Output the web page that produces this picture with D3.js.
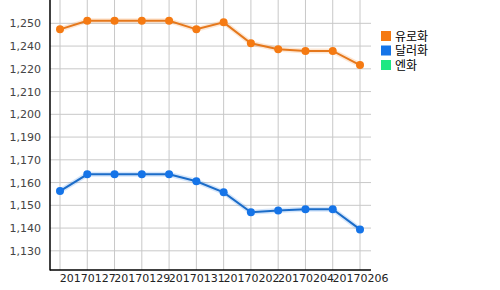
<!DOCTYPE html>
<html>
<head>
<meta charset="utf-8">
<script src="https://cdn.jsdelivr.net/npm/d3@7"></script>
<style>
  body { margin: 0; background: #fff; }
  svg { display: block; }
</style>
</head>
<body>
<svg id="chart" width="500" height="290"></svg>
<script>
// dates on the x axis
var dates = ['20170126', '20170127', '20170128', '20170129', '20170130', '20170131',
             '20170201', '20170202', '20170203', '20170204', '20170205', '20170206'];

// exchange rates (KRW)
var euroValues = [1244.1, 1248.7, 1248.7, 1248.7, 1248.7, 1244.1,
                  1247.8, 1236.7, 1233.5, 1232.6, 1232.6, 1225.1];
var dollarValues = [1158.1, 1167.0, 1167.0, 1167.0, 1167.0, 1163.3,
                    1157.4, 1146.8, 1147.8, 1148.4, 1148.4, 1137.7];
var yenValues = []; // off the visible range, legend only

var seriesNames = ['유로화', '달러화', '엔화'];

// y ticks as the chart has them (labels rounded to tens)
var yTickValues = [1247.3, 1235.2, 1223.1, 1211.0, 1198.9, 1186.8,
                   1174.7, 1162.6, 1150.5, 1138.4, 1126.3];
var yTickLabels = ['1,250', '1,240', '1,220', '1,210', '1,200', '1,190',
                   '1,170', '1,160', '1,150', '1,140', '1,130'];

var colors = ['#f57a12', '#1574e8', '#1de883'];
var lineColors = ['#e5781c', '#1b6cc8', '#1de883'];

var svg = d3.select('#chart');
var plotLeft = 50, plotRight = 371, plotTop = 0, plotBottom = 270;

var x = d3.scalePoint()
    .domain(dates)
    .range([60, 360]);

var y = d3.scaleLinear()
    .domain([1116.1, 1259.7])
    .range([plotBottom, plotTop]);

var grid = svg.append('g').attr('class', 'grid');

// vertical grid
grid.selectAll('line.v')
    .data(dates)
    .enter()
    .append('line')
    .attr('class', 'v')
    .attr('x1', function(d){ return x(d); })
    .attr('x2', function(d){ return x(d); })
    .attr('y1', plotTop)
    .attr('y2', plotBottom)
    .style('stroke', '#c8c8c8')
    .style('stroke-width', 1);

// horizontal grid
grid.selectAll('line.h')
    .data(yTickValues)
    .enter()
    .append('line')
    .attr('class', 'h')
    .attr('x1', plotLeft)
    .attr('x2', plotRight)
    .attr('y1', function(d){ return y(d); })
    .attr('y2', function(d){ return y(d); })
    .style('stroke', '#c8c8c8')
    .style('stroke-width', 1);

// y axis
var yAxis = d3.axisLeft(y)
    .tickValues(yTickValues)
    .tickFormat(function(d, i){ return yTickLabels[i]; })
    .tickSize(0)
    .tickPadding(9);

var gy = svg.append('g')
    .attr('transform', 'translate(' + plotLeft + ',0)')
    .call(yAxis);
gy.select('.domain').remove();
gy.selectAll('text')
    .style('font-family', 'DejaVu Sans')
    .style('font-size', '11px')
    .style('fill', '#444');

// x axis, every other label shown
var xAxis = d3.axisBottom(x)
    .tickValues(dates.filter(function(d, i){ return i % 2 === 1; }))
    .tickSize(0)
    .tickPadding(4);

var gx = svg.append('g')
    .attr('transform', 'translate(0,' + plotBottom + ')')
    .call(xAxis);
gx.select('.domain').remove();
gx.selectAll('text')
    .style('font-family', 'DejaVu Sans')
    .style('font-size', '11px')
    .style('fill', '#222');

// axis lines
svg.append('line')
    .attr('x1', plotLeft).attr('x2', plotLeft)
    .attr('y1', plotTop).attr('y2', plotBottom + 0.5)
    .style('stroke', '#000')
    .style('stroke-width', 1.5);
svg.append('line')
    .attr('x1', plotLeft).attr('x2', plotRight)
    .attr('y1', plotBottom).attr('y2', plotBottom)
    .style('stroke', '#000')
    .style('stroke-width', 1.5);

var series = [euroValues, dollarValues, yenValues];

var line = d3.line()
    .x(function(d, i){ return x(dates[i]); })
    .y(function(d){ return y(d); });

series.forEach(function(values, s){
    if (!values.length) return;
    var g = svg.append('g').attr('class', 'series' + s);

    // soft halo under the line
    g.append('path')
        .attr('d', line(values))
        .style('fill', 'none')
        .style('stroke', colors[s])
        .style('stroke-opacity', 0.18)
        .style('stroke-width', 5);

    g.append('path')
        .attr('d', line(values))
        .style('fill', 'none')
        .style('stroke', lineColors[s])
        .style('stroke-width', 2);

    g.selectAll('circle')
        .data(values)
        .enter()
        .append('circle')
        .attr('cx', function(d, i){ return x(dates[i]); })
        .attr('cy', function(d){ return y(d); })
        .attr('r', 4)
        .style('fill', colors[s]);
});

// legend
var legend = svg.append('g').attr('transform', 'translate(381,31)');
seriesNames.forEach(function(name, i){
    legend.append('rect')
        .attr('x', 0)
        .attr('y', i * 14.5)
        .attr('width', 10)
        .attr('height', 10)
        .style('fill', colors[i]);
    legend.append('text')
        .attr('x', 14)
        .attr('y', i * 14.5 + 9.5)
        .text(name)
        .style('font-family', 'Noto Sans CJK KR')
        .style('font-size', '12px')
        .style('fill', '#000');
});
</script>
</body>
</html>
